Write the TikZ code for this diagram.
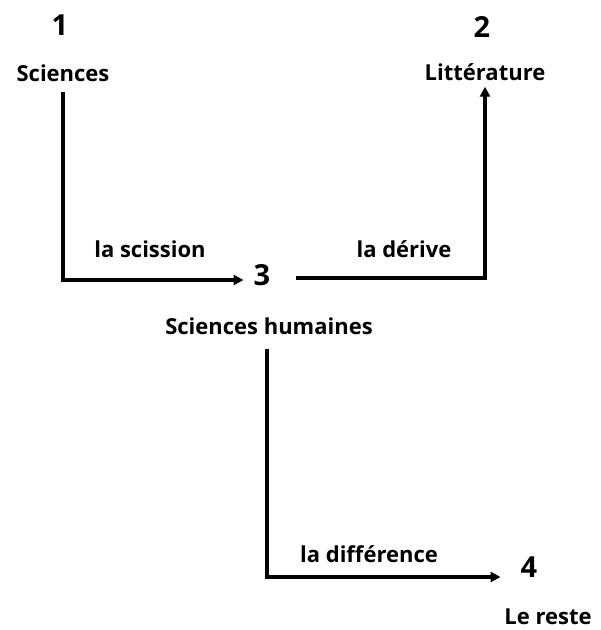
\documentclass[tikz,border=0pt]{standalone}
\usepackage{fontspec}
\setmainfont{Open Sans}
\usepackage{tikz}
\usetikzlibrary{arrows.meta}
\tikzset{
    lbl/.style={font=\fontsize{22}{25}\selectfont\bfseries, inner sep=2pt},
    num/.style={font=\fontsize{29}{31}\selectfont\bfseries, inner sep=2pt},
    fleche/.style={line width=3.5pt, -{Triangle[length=10pt,width=10pt]}}
}
\begin{document}
\begin{tikzpicture}[x=1pt,y=1pt]
        \useasboundingbox (0,0) rectangle (601,-630);

        % les quatre pôles
        \node[num] (un) at (60,-25) {1};
        \node[lbl] (sci) at (63,-73) {Sciences};
        \node[num] (deux) at (482,-27) {2};
        \node[lbl] (lit) at (485,-72) {Littérature};
        \node[num] (trois) at (262,-275) {3};
        \node[lbl] (hum) at (269,-326) {Sciences humaines};
        \node[num] (quatre) at (529,-567) {4};
        \node[lbl] (reste) at (548,-617) {Le reste};

        \coordinate (hb) at ([xshift=-2pt,yshift=-12pt]hum.south);

        % les liens
        \draw[fleche, shorten <=8pt, shorten >=8pt] (sci.south) |- ([yshift=-5pt]trois.west);
        \draw[fleche, shorten <=24pt, shorten >=4pt] ([yshift=-3pt]trois.east) -| (lit.south);
        \draw[fleche, shorten >=18pt] (hb) |- ([yshift=-10pt]quatre.west);

        \node[lbl] (scission) at (150,-249) {la scission};
        \node[lbl] (derive) at (404,-249) {la dérive};
        \node[lbl] (diff) at (369,-554) {la différence};
\end{tikzpicture}
\end{document}
